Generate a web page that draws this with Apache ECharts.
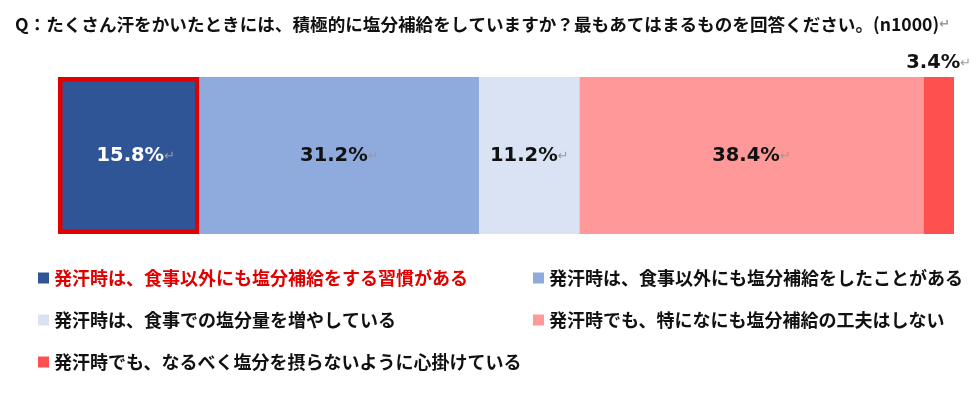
<!DOCTYPE html>
<html>
<head>
<meta charset="utf-8">
<script src="https://cdn.jsdelivr.net/npm/echarts@6/dist/echarts.min.js"></script>
<style>html,body{margin:0;padding:0;background:#fff;}#c{width:980px;height:399px;}</style>
</head>
<body>
<div id="c"></div>
<script>
const titleText = 'Q：たくさん汗をかいたときには、積極的に塩分補給をしていますか？最もあてはまるものを回答ください。(n1000)';
const categories = ['回答'];
const seriesNames = [
  '発汗時は、食事以外にも塩分補給をする習慣がある',
  '発汗時は、食事以外にも塩分補給をしたことがある',
  '発汗時は、食事での塩分量を増やしている',
  '発汗時でも、特になにも塩分補給の工夫はしない',
  '発汗時でも、なるべく塩分を摂らないように心掛けている'
];
const seriesValues = [15.8, 31.2, 11.2, 38.4, 3.4];
const colors = ['#2F5597', '#8FAADC', '#DAE3F3', '#FF9999', '#FF5050'];
const labelColors = ['#ffffff', '#111111', '#111111', '#111111', '#111111'];

const chart = echarts.init(document.getElementById('c'), null, {renderer: 'canvas'});
const cjk = '"Noto Sans CJK JP", sans-serif';
const series = seriesNames.map((name, i) => ({
  name: name,
  type: 'bar',
  stack: 'total',
  barWidth: 157,
  data: [seriesValues[i]],
  itemStyle: Object.assign({color: colors[i]}, i === 0 ? {borderColor: '#E00000', borderWidth: 4.5} : {}),
  emphasis: {disabled: true},
  label: {
    show: true,
    position: i === 4 ? 'top' : 'inside',
    distance: 4,
    offset: i === 0 ? [7, 0] : [0, 0],
    formatter: (p) => '{v|' + p.value.toFixed(1) + '%}{r|↵}',
    rich: {
      v: {fontFamily: '"DejaVu Sans", sans-serif', fontWeight: 'bold', fontSize: 19.5, color: labelColors[i]},
      r: {fontFamily: '"DejaVu Sans", sans-serif', fontSize: 13, color: '#9a9a9a', padding: [2, 0, 0, 0]}
    }
  }
}));

const legendBase = {
  orient: 'vertical', top: 262, itemWidth: 11, itemHeight: 11, itemGap: 20,
  icon: 'rect', selectedMode: false,
  itemStyle: {borderWidth: 0},
  textStyle: {fontFamily: cjk, fontWeight: 'bold', fontSize: 18, color: '#111111', lineHeight: 22}
};

chart.setOption({
  animation: false,
  backgroundColor: '#ffffff',
  title: {
    left: 10,
    top: 11,
    text: '{t|' + titleText + '}{r|↵}',
    textStyle: {
      rich: {
        t: {fontFamily: cjk, fontWeight: 'bold', fontSize: 17.6, color: '#111111'},
        r: {fontFamily: '"DejaVu Sans", sans-serif', fontSize: 13, color: '#9a9a9a'}
      }
    }
  },
  legend: [
    Object.assign({}, legendBase, {
      left: 33,
      data: [{name: seriesNames[0], textStyle: {color: '#E00000'}}, seriesNames[2], seriesNames[4]]
    }),
    Object.assign({}, legendBase, {
      left: 528,
      data: [seriesNames[1], seriesNames[3]]
    })
  ],
  grid: {left: 58, right: 26, top: 77, height: 157, containLabel: false},
  xAxis: {type: 'value', min: 0, max: 100, show: false},
  yAxis: {type: 'category', data: categories, show: false},
  series: series
});
</script>
</body>
</html>
